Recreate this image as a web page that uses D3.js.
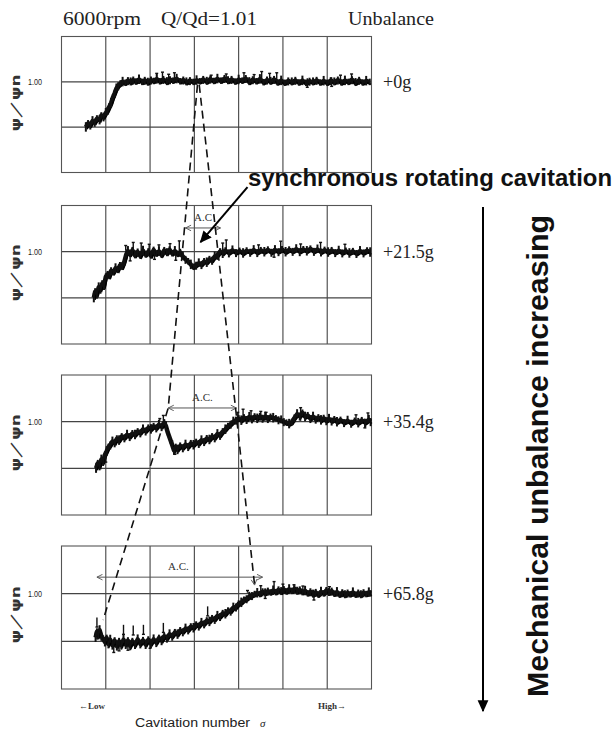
<!DOCTYPE html>
<html>
<head>
<meta charset="utf-8">
<script src="https://cdn.jsdelivr.net/npm/d3@7/dist/d3.min.js"></script>
<style>
  body { margin: 0; background: #fff; }
</style>
</head>
<body>
<div id="chart"></div>
<script>
// ---- data (x in grid columns 0..7 along cavitation number, y = psi/psi_n) ----
var panelLabels = ['+0g', '+21.5g', '+35.4g', '+65.8g'];
var headerTexts = ['6000rpm', 'Q/Qd=1.01', 'Unbalance'];
var yGridValues = [1.00, 0.85];
var yTickLabels = ['1.00'];
var xGridValues = [1, 2, 3, 4, 5, 6];

var trace0g = [[0.55,0.850],[0.60,0.862],[0.65,0.857],[0.70,0.870],[0.75,0.866],[0.80,0.878],[0.86,0.874],[0.90,0.888],[0.95,0.884],[1.00,0.897],[1.04,0.905],[1.08,0.918],[1.12,0.930],[1.16,0.948],[1.20,0.962],[1.24,0.978],[1.28,0.987],[1.33,0.994],[1.38,1.000],[1.44,0.996],[1.50,1.004],[1.56,0.998],[1.62,1.006],[1.68,1.000],[1.75,1.008],[1.82,0.999],[1.88,1.005],[1.95,0.997],[2.02,1.006],[2.08,1.002],[2.15,1.009],[2.22,1.001],[2.30,1.008],[2.38,0.999],[2.45,1.007],[2.52,1.003],[2.60,1.010],[2.68,1.001],[2.75,1.006],[2.82,0.998],[2.90,1.004],[2.98,0.999],[3.05,1.005],[3.12,1.001],[3.20,1.008],[3.28,1.000],[3.36,1.009],[3.44,1.002],[3.52,1.010],[3.60,1.003],[3.68,1.011],[3.76,1.002],[3.84,1.008],[3.92,1.000],[4.00,1.007],[4.08,1.003],[4.16,1.011],[4.24,0.999],[4.32,1.007],[4.40,1.001],[4.48,1.009],[4.56,0.998],[4.64,1.006],[4.72,1.000],[4.80,1.008],[4.88,0.997],[4.96,1.004],[5.04,0.996],[5.12,1.003],[5.20,0.998],[5.28,1.005],[5.36,0.997],[5.44,1.004],[5.52,0.996],[5.60,1.002],[5.68,0.998],[5.76,1.005],[5.84,0.997],[5.92,1.003],[6.00,0.996],[6.08,1.004],[6.16,0.998],[6.24,1.006],[6.32,0.997],[6.40,1.004],[6.48,0.999],[6.56,1.007],[6.64,0.996],[6.72,1.005],[6.80,0.997],[6.88,1.003],[6.96,0.999]];

var trace21g = [[0.73,0.850],[0.76,0.870],[0.80,0.862],[0.84,0.884],[0.88,0.878],[0.92,0.896],[0.96,0.890],[1.00,0.918],[1.04,0.926],[1.08,0.920],[1.12,0.938],[1.17,0.932],[1.22,0.946],[1.27,0.940],[1.32,0.955],[1.37,0.950],[1.42,0.968],[1.46,0.990],[1.50,1.002],[1.55,0.992],[1.60,1.004],[1.66,0.988],[1.72,0.999],[1.78,0.986],[1.84,1.003],[1.90,0.990],[1.96,1.000],[2.02,0.987],[2.08,1.005],[2.14,0.993],[2.20,1.001],[2.26,0.989],[2.32,1.004],[2.38,0.995],[2.44,1.006],[2.50,0.994],[2.56,1.002],[2.62,0.992],[2.68,0.998],[2.74,0.984],[2.80,0.975],[2.86,0.968],[2.92,0.958],[2.98,0.950],[3.04,0.956],[3.10,0.962],[3.16,0.958],[3.22,0.968],[3.28,0.965],[3.34,0.975],[3.40,0.972],[3.46,0.984],[3.52,0.988],[3.58,1.000],[3.64,0.994],[3.70,1.003],[3.78,0.996],[3.86,1.004],[3.94,0.997],[4.02,1.002],[4.10,0.995],[4.18,1.003],[4.26,0.998],[4.34,1.005],[4.42,0.997],[4.50,1.004],[4.58,0.999],[4.66,1.006],[4.74,0.998],[4.82,1.005],[4.90,1.000],[4.98,1.007],[5.06,0.999],[5.14,1.006],[5.22,1.001],[5.30,1.008],[5.38,1.000],[5.46,1.007],[5.54,1.002],[5.62,1.009],[5.70,1.001],[5.78,1.007],[5.86,0.999],[5.94,1.005],[6.02,0.998],[6.10,1.004],[6.18,0.997],[6.26,1.003],[6.34,0.996],[6.42,1.002],[6.50,0.995],[6.58,1.001],[6.66,0.994],[6.74,1.002],[6.82,0.996],[6.90,1.003],[6.97,0.998]];

var trace35g = [[0.78,0.850],[0.82,0.866],[0.86,0.858],[0.90,0.878],[0.94,0.872],[0.98,0.893],[1.02,0.905],[1.06,0.918],[1.10,0.925],[1.15,0.936],[1.20,0.932],[1.25,0.945],[1.30,0.940],[1.36,0.952],[1.42,0.948],[1.48,0.958],[1.54,0.952],[1.60,0.962],[1.66,0.958],[1.72,0.968],[1.78,0.964],[1.84,0.975],[1.90,0.970],[1.96,0.980],[2.02,0.976],[2.08,0.985],[2.14,0.980],[2.20,0.990],[2.26,0.984],[2.32,0.997],[2.36,0.985],[2.40,0.965],[2.45,0.945],[2.50,0.925],[2.54,0.908],[2.58,0.918],[2.62,0.910],[2.68,0.922],[2.74,0.916],[2.80,0.926],[2.86,0.920],[2.92,0.930],[2.98,0.925],[3.04,0.934],[3.10,0.930],[3.16,0.940],[3.22,0.936],[3.28,0.946],[3.34,0.942],[3.40,0.952],[3.46,0.948],[3.52,0.960],[3.58,0.956],[3.64,0.968],[3.70,0.975],[3.76,0.985],[3.82,0.992],[3.88,1.000],[3.94,1.005],[4.00,1.010],[4.06,1.004],[4.12,1.013],[4.18,1.007],[4.24,1.015],[4.30,1.009],[4.36,1.016],[4.42,1.010],[4.48,1.017],[4.54,1.011],[4.60,1.016],[4.66,1.010],[4.72,1.015],[4.78,1.012],[4.84,1.010],[4.90,1.006],[4.96,1.004],[5.02,1.000],[5.08,0.996],[5.14,0.993],[5.20,0.998],[5.26,1.012],[5.32,1.024],[5.38,1.018],[5.44,1.028],[5.50,1.016],[5.56,1.020],[5.62,1.010],[5.68,1.016],[5.74,1.008],[5.80,1.013],[5.86,1.005],[5.92,1.011],[5.98,1.003],[6.04,1.009],[6.10,1.002],[6.16,1.007],[6.22,0.999],[6.30,1.005],[6.38,0.997],[6.46,1.003],[6.54,0.995],[6.62,1.002],[6.70,0.996],[6.78,1.004],[6.86,0.997],[6.94,1.006],[6.98,1.000]];

var trace65g = [[0.77,0.862],[0.80,0.880],[0.83,0.870],[0.86,0.885],[0.90,0.866],[0.94,0.858],[0.98,0.848],[1.02,0.860],[1.06,0.842],[1.10,0.855],[1.15,0.838],[1.20,0.852],[1.25,0.835],[1.30,0.850],[1.35,0.838],[1.40,0.855],[1.45,0.840],[1.50,0.852],[1.55,0.836],[1.60,0.850],[1.66,0.840],[1.72,0.856],[1.78,0.842],[1.84,0.853],[1.90,0.840],[1.96,0.855],[2.02,0.843],[2.08,0.856],[2.14,0.846],[2.20,0.860],[2.26,0.852],[2.32,0.866],[2.38,0.860],[2.44,0.872],[2.50,0.866],[2.56,0.878],[2.62,0.872],[2.68,0.884],[2.74,0.880],[2.80,0.890],[2.86,0.886],[2.92,0.896],[2.98,0.892],[3.04,0.902],[3.10,0.898],[3.16,0.908],[3.22,0.905],[3.28,0.915],[3.34,0.912],[3.40,0.922],[3.46,0.919],[3.52,0.930],[3.58,0.928],[3.64,0.938],[3.70,0.936],[3.76,0.946],[3.82,0.945],[3.88,0.956],[3.94,0.958],[4.00,0.968],[4.06,0.972],[4.12,0.980],[4.18,0.984],[4.24,0.990],[4.30,0.994],[4.36,0.998],[4.42,1.002],[4.48,0.998],[4.54,1.006],[4.60,1.001],[4.66,1.008],[4.72,1.003],[4.78,1.010],[4.84,1.004],[4.90,1.012],[4.96,1.005],[5.02,1.013],[5.08,1.006],[5.14,1.014],[5.20,1.008],[5.26,1.015],[5.32,1.006],[5.38,1.012],[5.44,1.004],[5.50,1.009],[5.56,1.000],[5.62,1.006],[5.68,0.997],[5.74,1.004],[5.80,0.996],[5.86,1.006],[5.92,1.000],[5.98,1.010],[6.04,1.002],[6.10,1.008],[6.16,0.999],[6.22,1.005],[6.28,0.996],[6.34,1.003],[6.40,0.995],[6.46,1.002],[6.52,0.997],[6.58,1.004],[6.64,0.996],[6.70,1.002],[6.76,0.995],[6.82,1.003],[6.88,0.998],[6.94,1.004],[6.98,1.000]];

// scatter spikes sticking out of the trace: [x, tip value]
var spikes0g = [[2.15,1.028],[2.28,1.032],[2.42,1.025],[2.55,1.030],[3.38,1.022],[3.72,1.026],[4.12,1.030],[4.35,1.024],[4.52,1.034],[4.70,1.028],[4.86,1.030],[6.30,1.022],[6.55,1.026],[5.55,0.982],[6.10,0.985]];
var spikes21g = [[1.45,1.020],[1.62,1.030],[1.80,1.028],[1.98,1.024],[2.20,1.022],[2.45,1.026],[2.66,1.035],[3.64,1.028],[3.72,1.038],[4.45,1.022],[4.95,1.034],[5.40,1.025],[5.85,1.030],[6.40,1.024],[1.55,0.970],[2.10,0.975],[2.58,0.972],[4.80,0.982]];
var spikes35g = [[2.22,1.010],[2.30,1.020],[3.98,1.030],[4.10,1.040],[4.28,1.035],[4.50,1.033],[4.62,1.030],[5.40,1.045],[6.65,1.022],[6.92,1.028],[1.00,0.870],[2.56,0.895],[6.85,0.980]];
var spikes65g = [[0.80,0.895],[1.40,0.872],[1.62,0.870],[1.85,0.872],[2.30,0.878],[3.30,0.930],[4.20,1.010],[4.50,1.025],[4.80,1.038],[5.00,1.030],[5.25,1.028],[5.45,1.024],[6.05,1.022],[1.18,0.815],[1.30,0.820],[1.50,0.822],[2.00,0.828],[4.60,0.985],[5.70,0.980]];

// A.C. (alternate cavitation) ranges: panel, from, to, value level
var acPanel = [1, 2, 3];
var acFrom = [2.80, 2.41, 0.80];
var acTo = [3.59, 3.95, 4.54];
var acLevel = [1.077, 1.044, 1.052];
var acLabels = ['A.C', 'A.C.', 'A.C.'];

var traces = [trace0g, trace21g, trace35g, trace65g];
var spikes = [spikes0g, spikes21g, spikes35g, spikes65g];

// ---- layout ----
var W = 616, H = 732;
var panels = [
  { top: 36.5, h: 136 },
  { top: 205.5, h: 138.5 },
  { top: 375, h: 140 },
  { top: 546, h: 143 }
];
var serif = '"Liberation Serif", "Times New Roman", serif';
var sans = '"Liberation Sans", Arial, sans-serif';

var svg = d3.select('#chart').append('svg')
  .attr('width', W)
  .attr('height', H)
  .style('background', '#fff');

var defs = svg.append('defs');
defs.append('marker')
  .attr('id', 'headFill')
  .attr('viewBox', '0 0 10 10')
  .attr('refX', 9).attr('refY', 5)
  .attr('markerWidth', 6).attr('markerHeight', 6)
  .attr('markerUnits', 'strokeWidth')
  .attr('orient', 'auto')
  .append('path').attr('d', 'M0,0.5L10,5L0,9.5Z').attr('fill', '#000');
defs.append('marker')
  .attr('id', 'headOpen')
  .attr('viewBox', '0 0 10 10')
  .attr('refX', 9).attr('refY', 5)
  .attr('markerWidth', 7).attr('markerHeight', 7)
  .attr('markerUnits', 'userSpaceOnUse')
  .attr('orient', 'auto-start-reverse')
  .append('path').attr('d', 'M1,1L9,5L1,9').attr('fill', 'none')
  .attr('stroke', '#555').attr('stroke-width', 1.3);

var x = d3.scaleLinear().domain([0, 7]).range([61.5, 371.5]);
var yScales = panels.map(function(p) {
  return d3.scaleLinear().domain([0.70, 1.15]).range([p.top + p.h, p.top]);
});

// header
var headerX = [63, 161, 348];
var headerW = [78, 96, 86];
svg.selectAll('.header')
  .data(headerTexts)
  .enter()
  .append('text')
  .attr('class', 'header')
  .attr('x', function(d, i) { return headerX[i]; })
  .attr('y', 25)
  .attr('textLength', function(d, i) { return headerW[i]; })
  .attr('lengthAdjust', 'spacingAndGlyphs')
  .attr('font-family', serif)
  .attr('font-size', 18)
  .attr('fill', '#222')
  .text(function(d) { return d; });

panels.forEach(function(p, i) {
  var y = yScales[i];
  var g = svg.append('g').attr('class', 'panel');

  // grid
  g.selectAll('.vgrid')
    .data(xGridValues)
    .enter()
    .append('line')
    .attr('x1', function(d) { return x(d); })
    .attr('x2', function(d) { return x(d); })
    .attr('y1', p.top).attr('y2', p.top + p.h)
    .attr('stroke', '#444').attr('stroke-width', 1.1);
  g.selectAll('.hgrid')
    .data(yGridValues)
    .enter()
    .append('line')
    .attr('x1', x(0)).attr('x2', x(7))
    .attr('y1', function(d) { return y(d); })
    .attr('y2', function(d) { return y(d); })
    .attr('stroke', '#444').attr('stroke-width', 1.1);
  g.append('rect')
    .attr('x', x(0)).attr('y', p.top)
    .attr('width', x(7) - x(0)).attr('height', p.h)
    .attr('fill', 'none').attr('stroke', '#555').attr('stroke-width', 1.1);

  // tick label + y label
  g.append('text')
    .attr('x', 42).attr('y', y(1.00) + 3.5)
    .attr('text-anchor', 'end')
    .attr('font-family', sans).attr('font-size', 9.5)
    .attr('fill', '#222')
    .attr('textLength', 14).attr('lengthAdjust', 'spacingAndGlyphs')
    .text(yTickLabels[0]);
  var ly = y(1.00) + 21;
  g.append('text')
    .attr('transform', 'translate(20,' + ly + ') rotate(-90)')
    .attr('text-anchor', 'middle')
    .attr('font-family', '"DejaVu Sans", sans-serif').attr('font-size', 12.5)
    .attr('font-weight', 'bold')
    .attr('fill', '#333')
    .attr('textLength', 57).attr('lengthAdjust', 'spacingAndGlyphs')
    .text('ψ／ψn');

  // trace: thick band with scattered vertical noise
  var line = d3.line()
    .x(function(d) { return x(d[0]); })
    .y(function(d) { return y(d[1]); });
  g.append('path')
    .datum(traces[i])
    .attr('d', line)
    .attr('fill', 'none')
    .attr('stroke', '#111')
    .attr('stroke-width', 4.5)
    .attr('stroke-linejoin', 'round');
  g.append('path')
    .datum(traces[i])
    .attr('d', line)
    .attr('fill', 'none')
    .attr('stroke', '#000')
    .attr('stroke-width', 1.6)
    .attr('transform', 'translate(1.2,2)');
  g.selectAll('.jit')
    .data(traces[i])
    .enter()
    .append('line')
    .attr('x1', function(d) { return x(d[0]); })
    .attr('x2', function(d) { return x(d[0]); })
    .attr('y1', function(d, k) { return y(d[1]) - (k % 3 === 0 ? 5 : 3.5); })
    .attr('y2', function(d, k) { return y(d[1]) + (k % 2 === 0 ? 4.5 : 3); })
    .attr('stroke', '#111')
    .attr('stroke-width', 2);

  // spikes
  var sp = g.selectAll('.spike')
    .data(spikes[i])
    .enter()
    .append('g');
  sp.append('line')
    .attr('x1', function(d) { return x(d[0]); })
    .attr('x2', function(d) { return x(d[0]); })
    .attr('y1', function(d) { return y(d[1] > 0.99 ? 1.003 : d[1] + 0.03); })
    .attr('y2', function(d) { return y(d[1]); })
    .attr('stroke', '#111').attr('stroke-width', 1.4);
  sp.append('line')
    .attr('x1', function(d) { return x(d[0]) - 1.5; })
    .attr('x2', function(d) { return x(d[0]) + 1.5; })
    .attr('y1', function(d) { return y(d[1]); })
    .attr('y2', function(d) { return y(d[1]); })
    .attr('stroke', '#111').attr('stroke-width', 1.4);

  // right label
  g.append('text')
    .attr('x', 383).attr('y', y(1.00) + 6)
    .attr('font-family', serif).attr('font-size', 18)
    .attr('fill', '#222')
    .text(panelLabels[i]);
});

// A.C. ranges
acPanel.forEach(function(pi, k) {
  var y = yScales[pi];
  svg.append('line')
    .attr('x1', x(acFrom[k])).attr('x2', x(acTo[k]))
    .attr('y1', y(acLevel[k])).attr('y2', y(acLevel[k]))
    .attr('stroke', '#555').attr('stroke-width', 1)
    .attr('marker-start', 'url(#headOpen)')
    .attr('marker-end', 'url(#headOpen)');
  var cx = k === 2 ? x(2.64) : (x(acFrom[k]) + x(acTo[k])) / 2;
  svg.append('text')
    .attr('x', cx).attr('y', y(acLevel[k]) - 7)
    .attr('text-anchor', 'middle')
    .attr('font-family', serif).attr('font-size', 11)
    .attr('fill', '#333')
    .text(acLabels[k]);
});

// dashed guide lines linking the A.C. ranges
function pt(pi, xv, yv) { return [x(xv), yScales[pi](yv)]; }
var guides = [
  [pt(0, 3.07, 0.990), pt(2, acFrom[1], acLevel[1]), pt(3, 0.94, 0.917)],
  [pt(0, 3.11, 0.990), pt(2, acTo[1] - 0.02, acLevel[1]), pt(3, 4.36, 1.027)]
];
guides.forEach(function(pts, k) {
  svg.append('path')
    .attr('d', d3.line()(pts))
    .attr('fill', 'none')
    .attr('stroke', '#111')
    .attr('stroke-width', 1.6)
    .attr('stroke-dasharray', '8,5')
    .attr('marker-end', k === 1 ? 'url(#headOpen)' : null);
});

// synchronous rotating cavitation pointer
var tail = pt(1, 4.2, 1.21), tip = pt(1, 3.14, 1.031);
svg.append('line')
  .attr('x1', tail[0]).attr('y1', tail[1])
  .attr('x2', tip[0]).attr('y2', tip[1])
  .attr('stroke', '#000').attr('stroke-width', 2)
  .attr('marker-end', 'url(#headFill)');
svg.append('text')
  .attr('x', 248).attr('y', 186)
  .attr('font-family', sans).attr('font-weight', 'bold').attr('font-size', 23.5)
  .attr('fill', '#111')
  .attr('textLength', 364).attr('lengthAdjust', 'spacingAndGlyphs')
  .text('synchronous rotating cavitation');

// unbalance direction arrow
svg.append('line')
  .attr('x1', 483).attr('y1', 207)
  .attr('x2', 483).attr('y2', 711)
  .attr('stroke', '#000').attr('stroke-width', 2)
  .attr('marker-end', 'url(#headFill)');
svg.append('text')
  .attr('transform', 'translate(548,456) rotate(-90)')
  .attr('text-anchor', 'middle')
  .attr('font-family', sans).attr('font-weight', 'bold').attr('font-size', 29.5)
  .attr('fill', '#111')
  .attr('textLength', 482).attr('lengthAdjust', 'spacingAndGlyphs')
  .text('Mechanical unbalance increasing');

// x axis notes
svg.append('text')
  .attr('x', 79).attr('y', 709)
  .attr('font-family', serif).attr('font-size', 9).attr('font-weight', 'bold')
  .attr('fill', '#333')
  .text('←Low');
svg.append('text')
  .attr('x', 318).attr('y', 709)
  .attr('font-family', serif).attr('font-size', 9).attr('font-weight', 'bold')
  .attr('fill', '#333')
  .text('High→');
svg.append('text')
  .attr('x', 135).attr('y', 727)
  .attr('font-family', sans).attr('font-size', 12.5)
  .attr('fill', '#222')
  .attr('textLength', 115).attr('lengthAdjust', 'spacingAndGlyphs')
  .text('Cavitation number');
svg.append('text')
  .attr('x', 260).attr('y', 727)
  .attr('font-family', serif).attr('font-style', 'italic').attr('font-size', 11)
  .attr('fill', '#222')
  .text('σ');
</script>
</body>
</html>
